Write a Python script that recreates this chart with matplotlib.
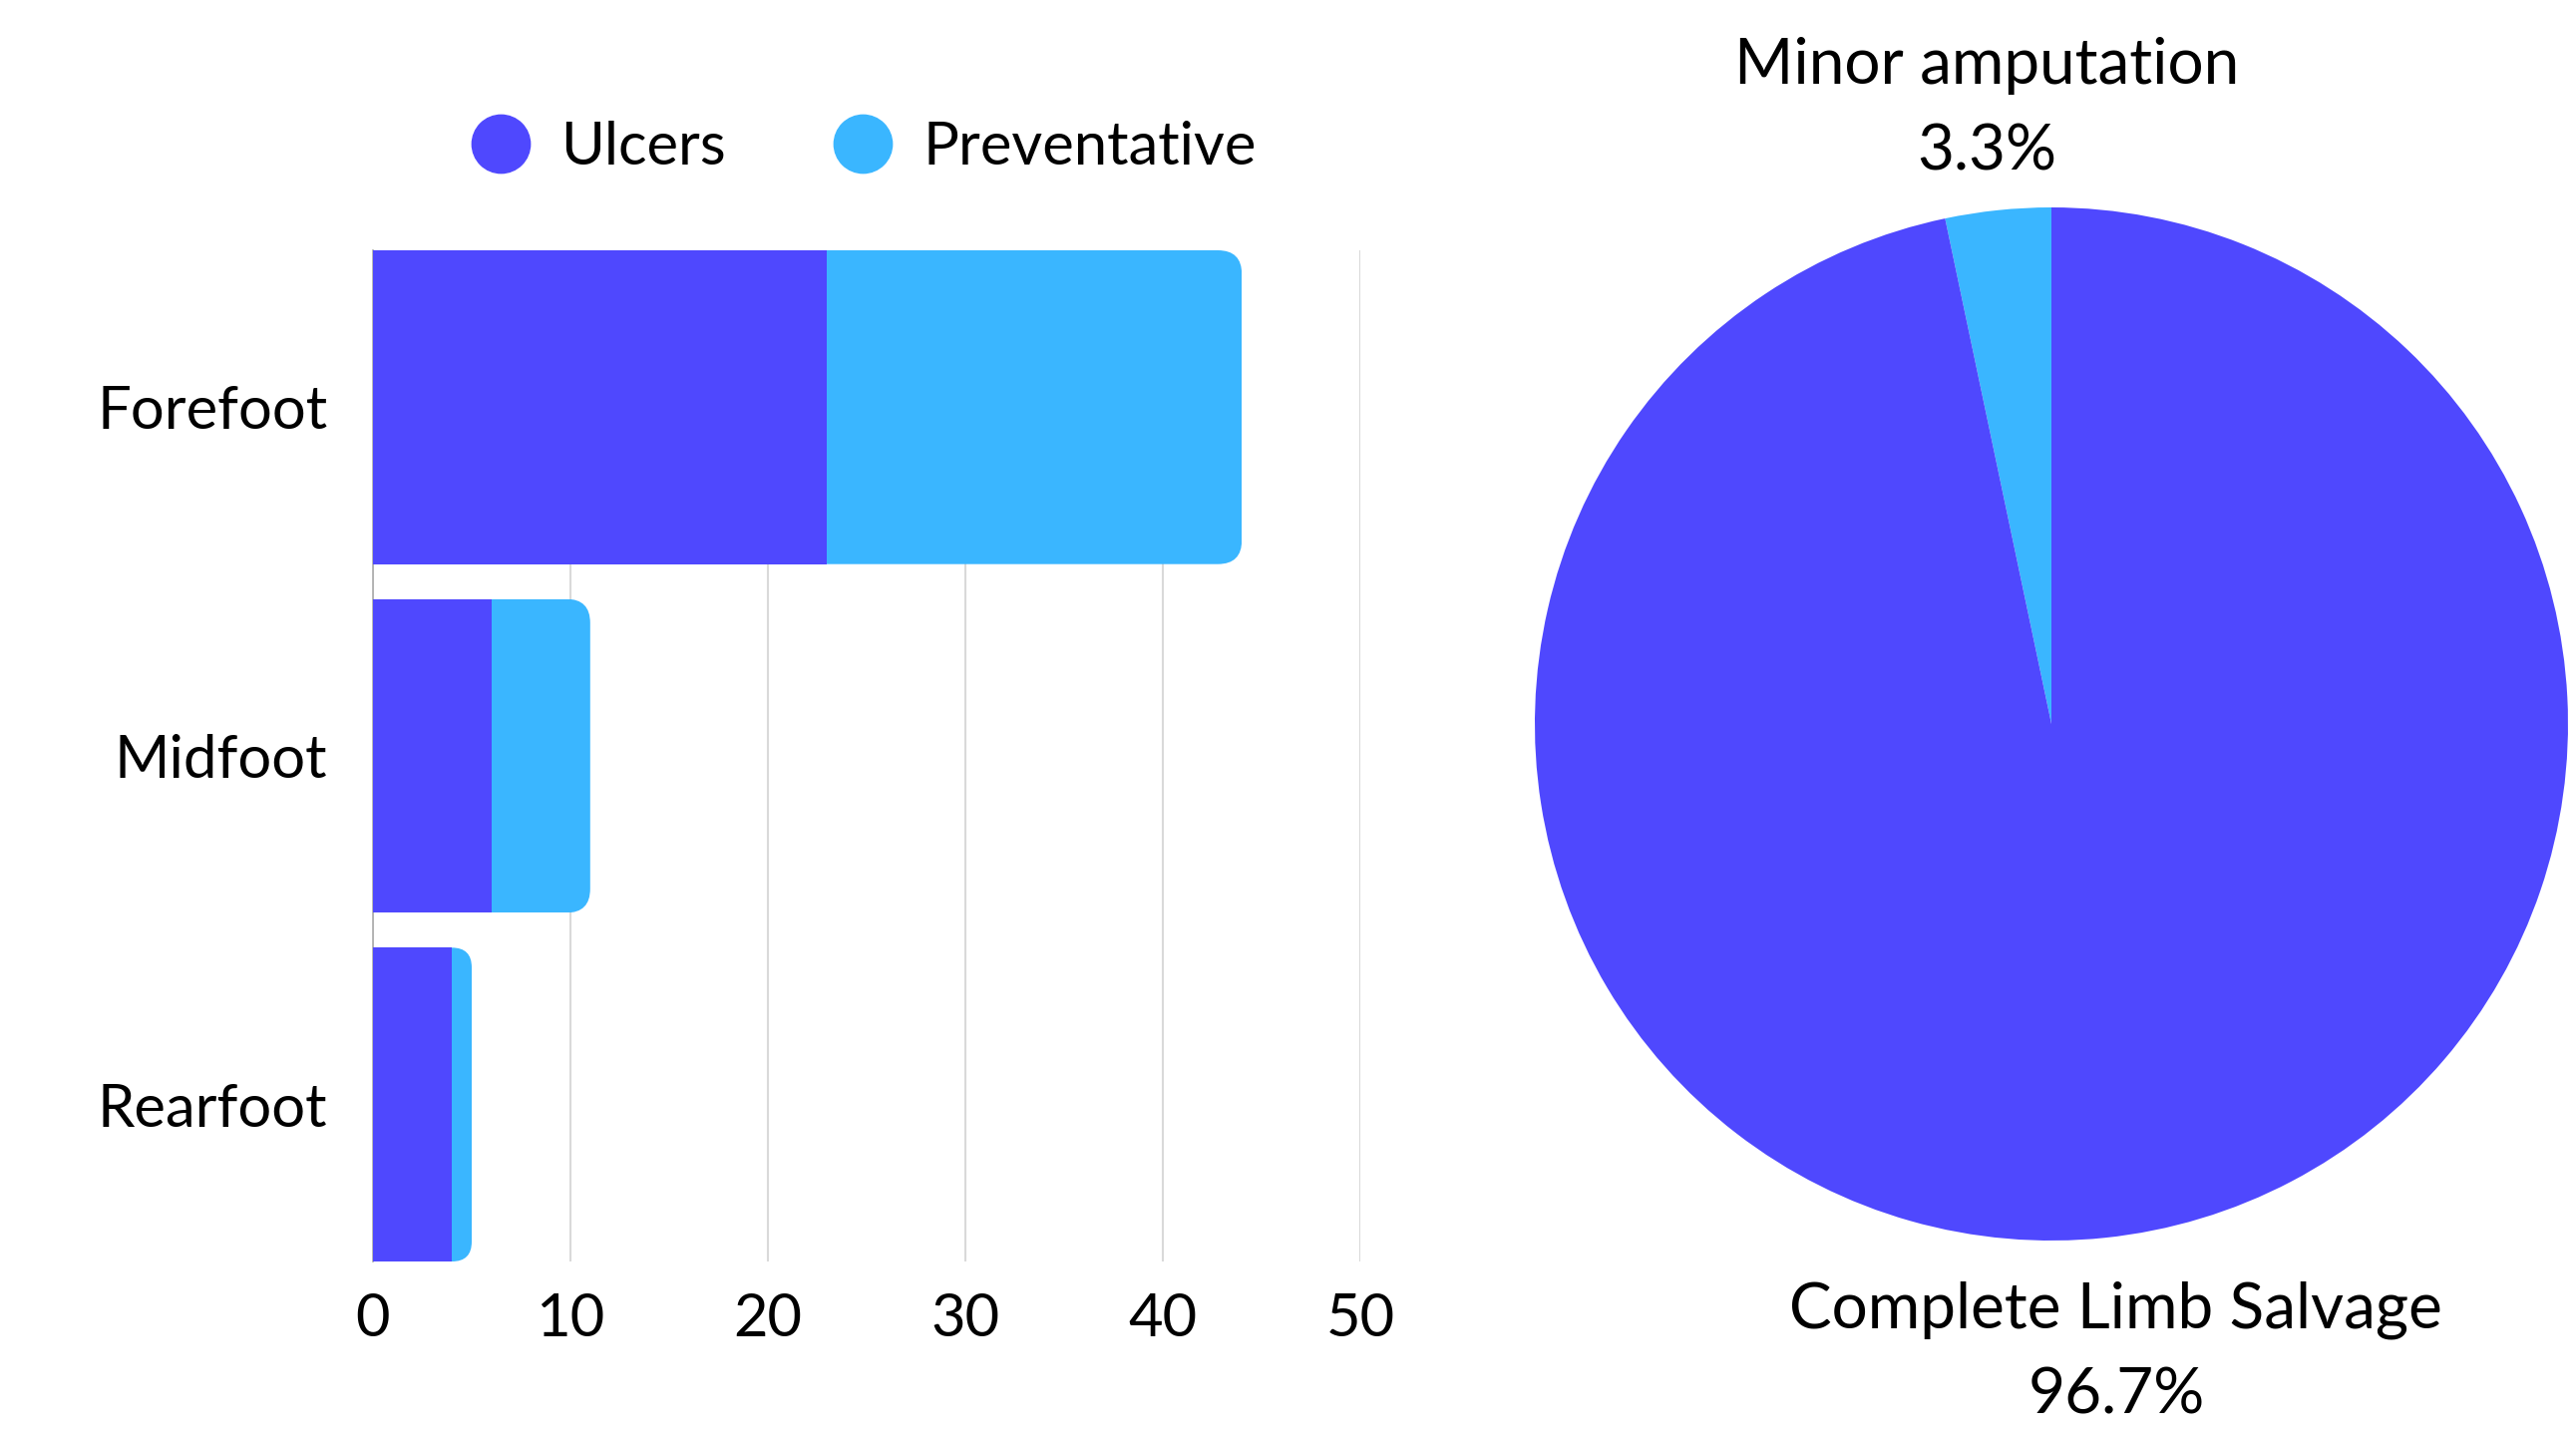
import matplotlib
matplotlib.use('Agg')
import matplotlib.pyplot as plt
from matplotlib.lines import Line2D
from matplotlib.patches import FancyBboxPatch
from matplotlib.transforms import IdentityTransform, offset_copy
import numpy as np

plt.rcParams['font.family'] = ['Lato', 'DejaVu Sans']

# data
regions = ['Forefoot', 'Midfoot', 'Rearfoot']
ulcers = [23, 6, 4]
preventative = [21, 5, 1]
x_ticks = [0, 10, 20, 30, 40, 50]

outcomes = ['Minor amputation', 'Complete Limb Salvage']
outcome_pct = [3.3, 96.7]

c_ulcer = '#4F48FE'
c_prev = '#3AB6FF'
W, H = 2583, 1438
DPI = 100

fig = plt.figure(figsize=(W / DPI, H / DPI), dpi=DPI)

# bar chart
ax = fig.add_axes([374 / W, 1 - 1265 / H, 990 / W, 1014 / H])
ypos = np.arange(len(regions))
ax.barh(ypos, ulcers, height=0.9, color=c_ulcer, zorder=3)
prev_bars = ax.barh(ypos, preventative, left=ulcers, height=0.9, color=c_prev, zorder=3)
ax.set_xlim(0, 50)
ax.set_ylim(len(regions) - 0.55, -0.45)
ax.set_xticks(x_ticks)
ax.set_yticks(ypos)
ax.set_yticklabels(regions)
ax.tick_params(axis='both', length=0, labelsize=43)
ax.tick_params(axis='y', pad=33)
ax.tick_params(axis='x', pad=22)
ax.grid(axis='x', color='#d9d9d9', linewidth=1.5, zorder=0)
ax.set_axisbelow(True)
for s in ['top', 'right', 'bottom']:
    ax.spines[s].set_visible(False)
ax.spines['left'].set_color('#aaaaaa')
ax.spines['left'].set_linewidth(1.2)

# rounded right ends (clip in pixel space)
for rect in prev_bars:
    bb = rect.get_window_extent()
    r = min(24, bb.width)
    clip = FancyBboxPatch((bb.x0 - 3 * r, bb.y0), bb.width + 3 * r, bb.height,
                          boxstyle='round,pad=0,rounding_size=%f' % r,
                          transform=IdentityTransform())
    rect.set_clip_path(clip)

handles = [Line2D([], [], marker='o', linestyle='', markersize=42, color=c_ulcer),
           Line2D([], [], marker='o', linestyle='', markersize=42, color=c_prev)]
fig.legend(handles, ['Ulcers', 'Preventative'], loc='center', ncol=2, frameon=False,
           bbox_to_anchor=(866 / W, 1 - 148 / H), fontsize=43, handlelength=1.0,
           handletextpad=0.5, columnspacing=1.8)

# pie chart
R = 518
side = 2 * 1.25 * R
pax = fig.add_axes([(2057 - side / 2) / W, (H - 726 - side / 2) / H, side / W, side / H])
labels = ['%s\n%.1f%%' % (o, p) for o, p in zip(outcomes, outcome_pct)]
wedges, texts = pax.pie(outcome_pct, labels=labels, colors=[c_prev, c_ulcer],
                        startangle=90, counterclock=True, labeldistance=1.21,
                        textprops={'fontsize': 46, 'linespacing': 1.6})
for t in texts:
    t.set_ha('center')
    t.set_va('center')
    t.set_transform(offset_copy(pax.transData, fig=fig, y=-7, units='dots'))

fig.savefig('out.png', dpi=DPI)
